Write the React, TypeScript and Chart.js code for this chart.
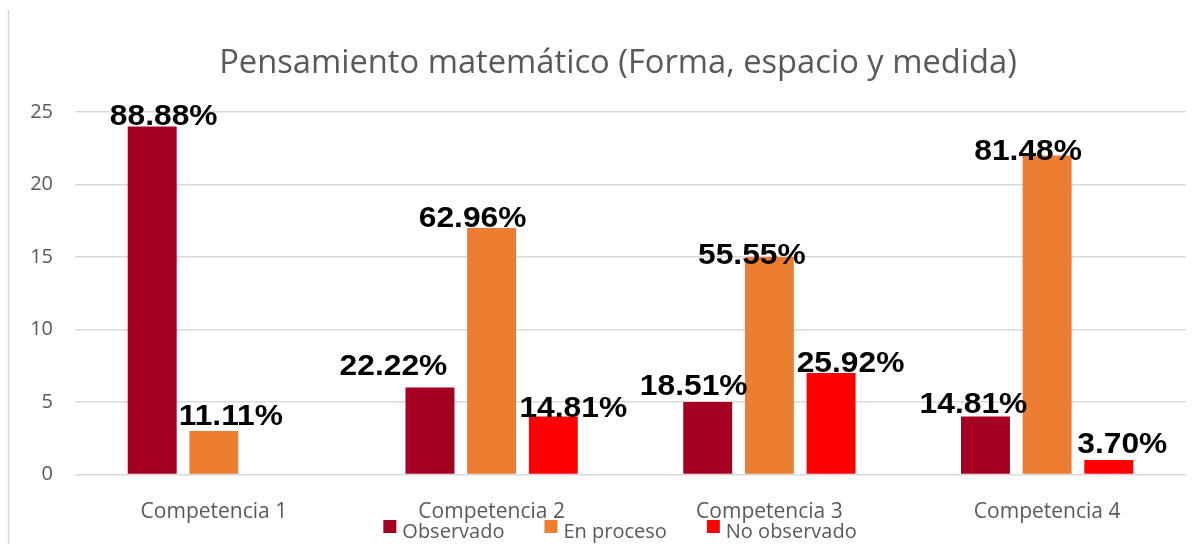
import React, { useEffect, useRef } from "react";
import { Chart, registerables } from "chart.js";

Chart.register(...registerables);

// ---- data ----
const categories = ["Competencia 1", "Competencia 2", "Competencia 3", "Competencia 4"];
const seriesNames = ["Observado", "En proceso", "No observado"];
const observado = [24, 6, 5, 4];
const enProceso = [3, 17, 15, 22];
const noObservado = [0, 4, 7, 1];
const observadoPct = ["88.88%", "22.22%", "18.51%", "14.81%"];
const enProcesoPct = ["11.11%", "62.96%", "55.55%", "81.48%"];
const noObservadoPct = ["", "14.81%", "25.92%", "3.70%"];
const yTicks = [0, 5, 10, 15, 20, 25];
const titleText = "Pensamiento matemático (Forma, espacio y medida)";

// ---- styles ----
const colors = ["#A50021", "#ED7D31", "#FF0000"];
const gray = "#595959";
const gridColor = "#D9D9D9";
// label nudges [dx, gap above bar] per series per category
const labelNudge = [
  [[11.5, 2], [-36.5, 13], [-14, 7], [-12, 4]],
  [[17, 6], [-19, 1], [-17.5, -7], [-19, -4]],
  [[0, 0], [20, 0], [19.5, 1], [13.5, 7]],
];

const framePlugin = {
  id: "frameAndTitle",
  beforeDraw(chart: any) {
    const ctx = chart.ctx;
    ctx.save();
    ctx.strokeStyle = gridColor;
    ctx.lineWidth = 1.5;
    ctx.beginPath();
    ctx.moveTo(8.5, 10);
    ctx.lineTo(8.5, chart.height);
    ctx.stroke();
    ctx.font = "32.7px 'Open Sans', sans-serif";
    ctx.fillStyle = gray;
    ctx.textAlign = "center";
    ctx.textBaseline = "alphabetic";
    ctx.fillText(titleText, 618, 72.5);
    ctx.restore();
  },
};

const labelPlugin = {
  id: "pctLabels",
  afterDatasetsDraw(chart: any) {
    const ctx = chart.ctx;
    const all = [observadoPct, enProcesoPct, noObservadoPct];
    ctx.save();
    ctx.font = "bold 29px 'Liberation Sans', Arial, sans-serif";
    ctx.fillStyle = "#000000";
    ctx.textAlign = "center";
    ctx.textBaseline = "alphabetic";
    all.forEach((labels, di) => {
      const meta = chart.getDatasetMeta(di);
      meta.data.forEach((bar: any, i: number) => {
        const txt = labels[i];
        if (!txt) return;
        const [dx, gap] = labelNudge[di][i];
        ctx.save();
        ctx.translate(bar.x + dx, bar.y - gap);
        ctx.scale(1.095, 1);
        ctx.fillText(txt, 0, 0);
        ctx.restore();
      });
    });
    ctx.restore();
  },
};

const legendPlugin = {
  id: "customLegend",
  afterDraw(chart: any) {
    const ctx = chart.ctx;
    ctx.save();
    ctx.font = "20px 'Open Sans', sans-serif";
    const box = 13;
    const gapText = 6;
    const gapItem = 40;
    const widths = chart.data.datasets.map((d: any) => ctx.measureText(d.label).width);
    const total =
      widths.reduce((a: number, w: number) => a + box + gapText + w, 0) + gapItem * (widths.length - 1);
    let x = 620 - total / 2;
    const baseline = 538;
    chart.data.datasets.forEach((d: any, i: number) => {
      ctx.fillStyle = d.backgroundColor;
      ctx.fillRect(x, 520, box, box);
      ctx.fillStyle = gray;
      ctx.textAlign = "left";
      ctx.textBaseline = "alphabetic";
      ctx.fillText(d.label, x + box + gapText, baseline);
      x += box + gapText + widths[i] + gapItem;
    });
    ctx.restore();
  },
};

export default function App() {
  const ref = useRef<HTMLCanvasElement | null>(null);

  useEffect(() => {
    if (!ref.current) return;
    const values = [observado, enProceso, noObservado];
    const chart = new Chart(ref.current, {
      type: "bar",
      data: {
        labels: categories,
        datasets: seriesNames.map((name, i) => ({
          label: name,
          data: values[i],
          backgroundColor: colors[i],
          borderWidth: 0,
          categoryPercentage: 0.666,
          barPercentage: 0.794,
        })),
      },
      options: {
        responsive: false,
        animation: false,
        layout: { padding: { left: 0, right: 18, top: 112, bottom: 0 } },
        plugins: {
          legend: { display: false },
          tooltip: { enabled: false },
          title: { display: false },
        },
        scales: {
          x: {
            grid: { display: false },
            border: { display: false },
            ticks: {
              color: gray,
              font: { family: "'Open Sans', sans-serif", size: 21 },
              padding: 17,
              maxRotation: 0,
            },
            afterFit: (scale: any) => {
              scale.height = 69.5;
            },
          },
          y: {
            min: 0,
            max: 25,
            grid: { color: gridColor, lineWidth: 1.5, drawTicks: false },
            border: { display: false },
            ticks: {
              color: gray,
              font: { family: "'Open Sans', sans-serif", size: 20 },
              padding: 22,
            },
            afterBuildTicks: (scale: any) => {
              scale.ticks = yTicks.map((v) => ({ value: v }));
            },
            afterFit: (scale: any) => {
              scale.width = 75;
            },
          },
        },
      },
      plugins: [framePlugin, labelPlugin, legendPlugin],
    });
    return () => chart.destroy();
  }, []);

  return (
    <div style={{ position: "absolute", left: 0, top: 0, width: 1204, height: 544, background: "#fff" }}>
      <canvas ref={ref} width={1204} height={544} style={{ display: "block" }} />
    </div>
  );
}
